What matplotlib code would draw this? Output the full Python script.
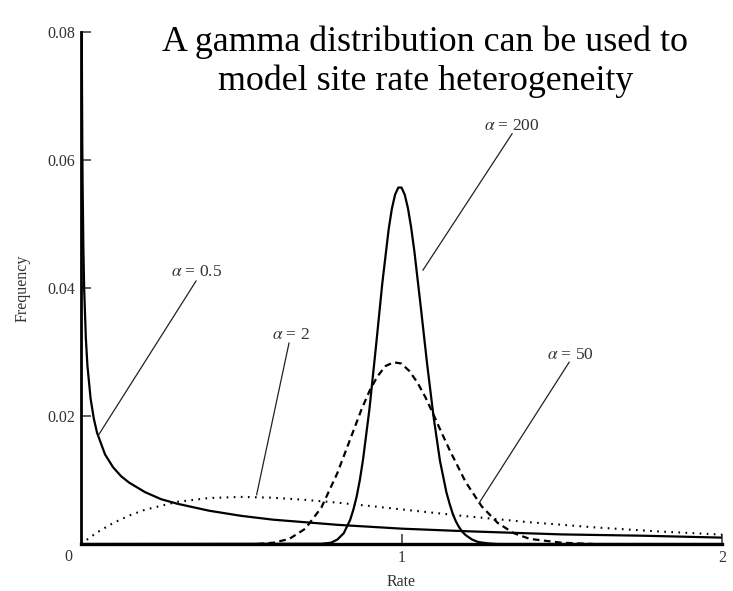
import matplotlib
matplotlib.use("Agg")
import matplotlib.pyplot as plt

plt.rcParams['font.family'] = ['Liberation Serif', 'DejaVu Serif']
plt.rcParams['mathtext.fontset'] = 'stix'

# values (rate vs frequency)
a05_x = [0.0024, 0.003, 0.004, 0.005, 0.0075, 0.01, 0.015, 0.02, 0.03, 0.04,
         0.05, 0.075, 0.1, 0.125, 0.15, 0.2, 0.25, 0.3, 0.4, 0.5, 0.6, 0.7,
         0.8, 1.0, 1.2, 1.5, 1.75, 2.0]
a05_y = [0.0800, 0.0727, 0.0629, 0.0563, 0.0459, 0.0397, 0.0323, 0.0279,
         0.0227, 0.0196, 0.0174, 0.0140, 0.0120, 0.0106, 0.0096, 0.0081,
         0.0070, 0.0063, 0.0052, 0.0044, 0.0038, 0.0034, 0.0030, 0.0024,
         0.0020, 0.0015, 0.0013, 0.0010]

a2_x = [0.0, 0.05, 0.1, 0.15, 0.2, 0.3, 0.4, 0.5, 0.6, 0.7, 0.8, 0.9, 1.0,
        1.2, 1.4, 1.6, 1.8, 2.0]
a2_y = [0.0, 0.00181, 0.00327, 0.00444, 0.00536, 0.00659, 0.00719, 0.00736,
        0.00723, 0.00690, 0.00646, 0.00595, 0.00541, 0.00435, 0.00340,
        0.00261, 0.00197, 0.00147]

a50_x = [0.55, 0.6, 0.65, 0.7, 0.75, 0.8, 0.85, 0.875, 0.9, 0.925, 0.95,
         0.975, 1.0, 1.025, 1.05, 1.075, 1.1, 1.125, 1.15, 1.2, 1.25, 1.3,
         1.35, 1.4, 1.5, 1.6]
a50_y = [0.0, 0.0002, 0.0008, 0.0024, 0.0057, 0.0111, 0.0177, 0.0210, 0.0239,
         0.0262, 0.0278, 0.0284, 0.0282, 0.0270, 0.0252, 0.0229, 0.0202,
         0.0174, 0.0147, 0.0097, 0.0059, 0.0033, 0.0017, 0.0008, 0.0002, 0.0]

a200_x = [0.0, 0.75, 0.78, 0.80, 0.82, 0.84, 0.85, 0.86, 0.87, 0.88, 0.90,
          0.92, 0.94, 0.96, 0.97, 0.98, 0.99, 1.00, 1.01, 1.02, 1.03, 1.04,
          1.06, 1.08, 1.10, 1.12, 1.14, 1.15, 1.16, 1.17, 1.18, 1.19, 1.20,
          1.22, 1.24, 1.27, 1.30, 2.0]
a200_y = [0.0, 0.00004, 0.0002, 0.0007, 0.0017, 0.0038, 0.0054, 0.0074,
          0.0100, 0.0132, 0.0211, 0.0307, 0.0407, 0.0492, 0.0524, 0.0546,
          0.0557, 0.0557, 0.0546, 0.0525, 0.0495, 0.0458, 0.0371, 0.0281,
          0.0199, 0.0130, 0.0081, 0.0063, 0.0047, 0.0035, 0.0026, 0.0019,
          0.0014, 0.0007, 0.0003, 0.0001, 0.0, 0.0]

# label text, label position, leader line (start, tip)
labels = [r'$\alpha$ = 0.5', r'$\alpha$ = 2', r'$\alpha$ = 200', r'$\alpha$ = 50']
label_xy = [(0.362, 0.0425), (0.655, 0.0327), (1.345, 0.0653), (1.526, 0.0295)]
leader_from = [(0.359, 0.0411), (0.649, 0.0314), (1.345, 0.0641), (1.523, 0.0284)]
leader_to = [(0.053, 0.0169), (0.548, 0.0077), (1.067, 0.0428), (1.242, 0.0064)]

fig = plt.figure(figsize=(7.33, 5.91), dpi=100)
ax = fig.add_axes([0.1105, 0.0795, 0.8745, 0.8663])

ax.plot(a05_x, a05_y, color='black', lw=1.6)
ax.plot(a2_x, a2_y, color='black', lw=1.5, linestyle=(0, (0.8, 2.6)))
ax.plot(a50_x, a50_y, color='black', lw=1.6, linestyle=(0, (3, 2)))
ax.plot(a200_x, a200_y, color='black', lw=1.6)

for txt, pos, p0, p1 in zip(labels, label_xy, leader_from, leader_to):
    ax.text(pos[0], pos[1], txt, ha='center', va='center', fontsize=12.5,
            color='#333333')
    ax.plot([p0[0], p1[0]], [p0[1], p1[1]], color='#222222', lw=0.9)

ax.set_xlim(0, 2)
ax.set_ylim(0, 0.08)
ax.spines['top'].set_visible(False)
ax.spines['right'].set_visible(False)
ax.spines['left'].set_linewidth(2.0)
ax.spines['bottom'].set_linewidth(2.4)

ax.set_xticks([1, 2])
ax.set_xticklabels(['1', '2'])
ax.set_yticks([0.02, 0.04, 0.06, 0.08])
ax.set_yticklabels(['0.02', '0.04', '0.06', '0.08'])
ax.tick_params(direction='in', length=7, width=1.2, color='#444444',
               labelsize=11.5, labelcolor='#333333', pad=4)
ax.annotate('0', xy=(0, 0), xytext=(-13, -13), textcoords='offset pixels',
            ha='center', va='center', fontsize=11.5, color='#333333')

ax.set_xlabel('Rate', fontsize=11.5, color='#333333', labelpad=6)
ax.set_ylabel('Frequency', fontsize=11.5, color='#333333', labelpad=12)

fig.text(0.58, 0.9142, 'A gamma distribution can be used to', ha='center',
         va='baseline', fontsize=25.8, color='black')
fig.text(0.58, 0.8477, 'model site rate heterogeneity', ha='center',
         va='baseline', fontsize=25.8, color='black')

fig.savefig('out.png', dpi=100)
